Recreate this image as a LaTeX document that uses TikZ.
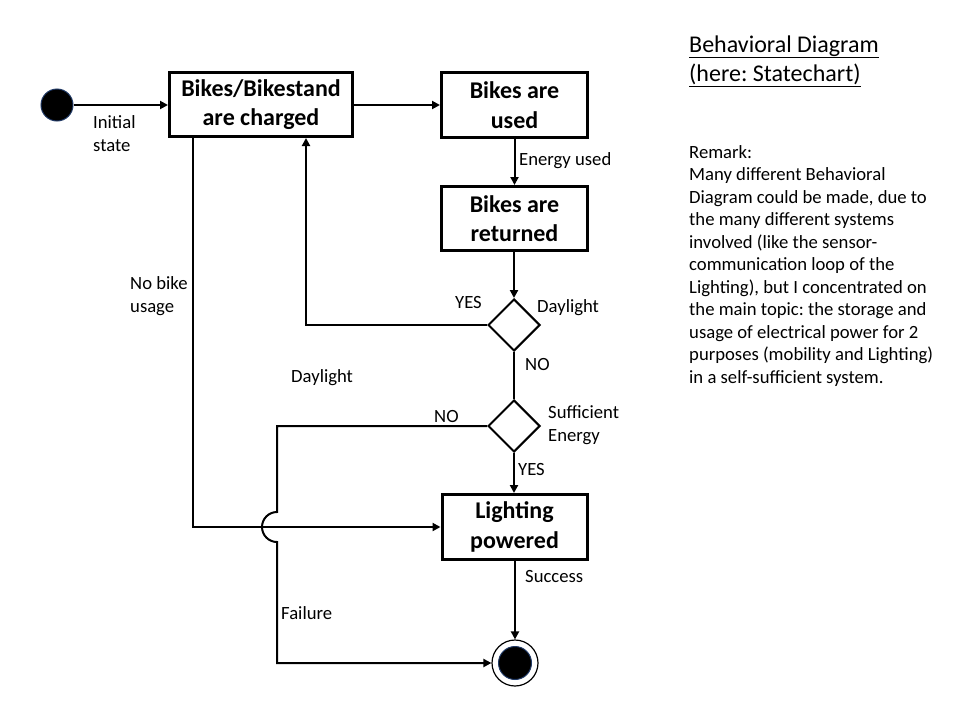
\documentclass[tikz,border=0pt]{standalone}
\usepackage{fontspec}
\setmainfont{Carlito}
\usetikzlibrary{shapes.geometric,arrows.meta}
\definecolor{rimblue}{RGB}{31,56,100}
\frenchspacing
\begin{document}
\begin{tikzpicture}[x=1pt,y=-1pt,
  state/.style={draw,line width=3pt,align=center,inner sep=0pt,
    font=\bfseries\fontsize{24}{29.5}\selectfont},
  choice/.style={draw,diamond,aspect=1,line width=2pt,inner sep=0pt,
    minimum width=52pt,minimum height=52pt},
  flow/.style={line width=2pt},
  arr/.style={flow,-{Triangle[length=8pt,width=8pt]}},
  lbl/.style={inner sep=0pt,align=left,font=\fontsize{18.67}{22.5}\selectfont},
  dot/.style={circle,fill=black,draw=rimblue,line width=1pt,inner sep=0pt}]
\useasboundingbox (0,0) rectangle (960,720);

% states
\node[state,minimum width=183pt,minimum height=64pt] (b1) at (261,104.5) {Bikes/Bikestand\\are charged};
\node[state,minimum width=146pt,minimum height=65pt] (b2) at (514.5,105) {Bikes are\\used};
\node[state,minimum width=146pt,minimum height=64pt] (b3) at (514.5,218.5) {Bikes are\\returned};
\node[state,minimum width=145pt,minimum height=65pt] (b4) at (514.5,527) {Lighting\\powered};

% decisions
\node[choice] (d1) at (514,325) {};
\node[choice] (d2) at (514,426) {};

% initial and final states
\node[dot,minimum size=32pt] (init) at (57,105) {};
\node[circle,draw,line width=1.2pt,minimum size=46pt,inner sep=0pt] (final) at (515,663) {};
\node[dot,minimum size=33pt] (finalcore) at (final) {};

% routing helpers
\coordinate (loopx) at (306,0);
\coordinate (nobikex) at (193,0);
\coordinate (hoptop) at (277,512);

% transitions
\draw[arr] (init) -- (b1.west |- init);
\draw[arr] (b1.east |- b2.west) -- (b2.west);
\draw[arr] (b2) -- (b3);
\draw[arr] (b3.south -| d1) -- (d1.north);
\draw[arr] (d1.west) -| (loopx |- b1.south);
\draw[flow] (d1.south) -- (d2.north);
\draw[arr] (d2.south) -- (b4.north -| d2);
\draw[arr] (nobikex |- b1.south) |- (b4.west);
\draw[arr] (d2.west) -| (hoptop) arc[start angle=270,end angle=90,radius=15] |- (final.west);
\draw[arr] (b4.south -| final) -- (final.north);

% transition labels (base = baseline of the last line)
\node[lbl,anchor=base west] (tinit) at (93,151) {Initial\\state};
\node[lbl,anchor=base west] (tenergy) at (519,165) {Energy used};
\node[lbl,anchor=base west] (tnobike) at (130,312) {No bike\\usage};
\node[lbl,anchor=base west] (tyes1) at (455,308) {YES};
\node[lbl,anchor=base west] (tday1) at (537,312) {Daylight};
\node[lbl,anchor=base west] (tno1) at (525,370) {NO};
\node[lbl,anchor=base west] (tday2) at (291,382) {Daylight};
\node[lbl,anchor=base west] (tno2) at (434,422) {NO};
\node[lbl,anchor=base west] (tsuff) at (548,441) {Sufficient\\Energy};
\node[lbl,anchor=base west] (tyes2) at (518,475) {YES};
\node[lbl,anchor=base west] (tsucc) at (525,582) {Success};
\node[lbl,anchor=base west] (tfail) at (281,619) {Failure};

% heading and remark
\node[inner sep=0pt,align=left,anchor=base west,font=\fontsize{24}{29}\selectfont] (title) at (689,81)
  {\underline{Behavioral Diagram}\\\underline{(here: Statechart)}};
\node[lbl,anchor=base west] (remark) at (689,383)
  {Remark:\\Many different Behavioral\\Diagram could be made, due to\\the many different systems\\involved (like the sensor-\\communication loop of the\\Lighting), but I concentrated on\\the main topic: the storage and\\usage of electrical power for 2\\purposes (mobility and Lighting)\\in a self-sufficient system.};
\end{tikzpicture}
\end{document}
